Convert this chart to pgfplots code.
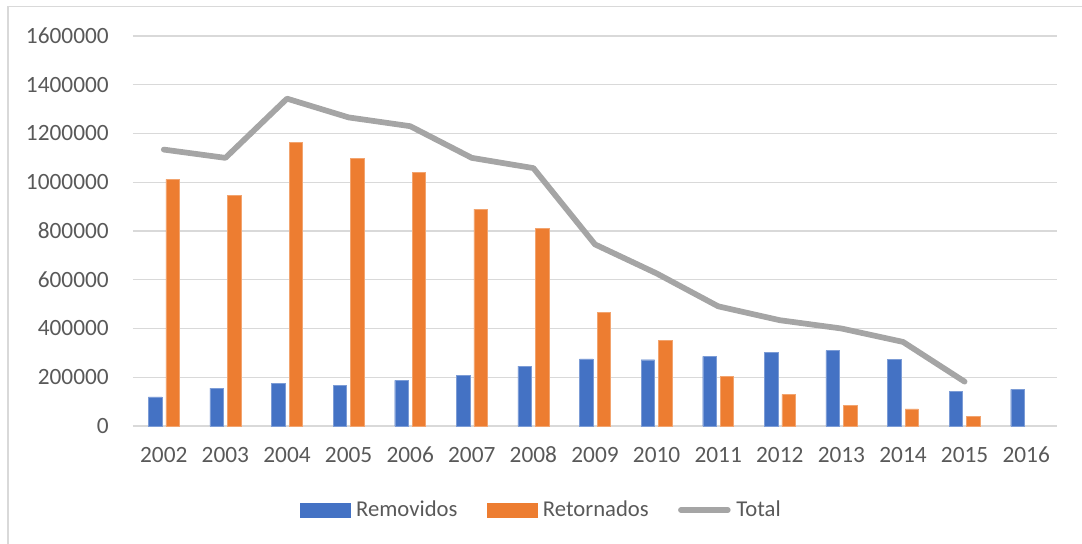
\documentclass[border=0pt]{standalone}
\usepackage{pgfplots}
\pgfplotsset{compat=1.18}
\usepackage{fontspec}
\setmainfont{Carlito}
\definecolor{cblue}{HTML}{4472C4}
\definecolor{corange}{HTML}{ED7D31}
\definecolor{cgray}{HTML}{A5A5A5}
\definecolor{cgrid}{HTML}{D9D9D9}
\definecolor{ctext}{HTML}{595959}
\begin{document}
\begin{tikzpicture}
\begin{axis}[
  at={(0,0)}, anchor=south west,
  scale only axis, width=693pt, height=292.5pt,
  xmin=-0.5, xmax=14.5, ymin=0, ymax=1600000,
  scaled y ticks=false,
  xtick={0,...,14},
  xticklabels={2002,2003,2004,2005,2006,2007,2008,2009,2010,2011,2012,2013,2014,2015,2016},
  ytick={0,200000,400000,600000,800000,1000000,1200000,1400000,1600000},
  yticklabels={0,200000,400000,600000,800000,1000000,1200000,1400000,1600000},
  ymajorgrids, grid style={cgrid, line width=1.1pt},
  axis line style={draw=none},
  tick style={draw=none}, major tick length=0pt,
  ticklabel style={font=\fontsize{17.5}{20}\selectfont, text=ctext},
  yticklabel style={anchor=east, inner sep=0pt, xshift=-18pt, text height=11pt, text depth=0pt},
  xticklabel style={anchor=north, inner sep=0pt, yshift=-16.5pt, text height=11pt, text depth=0pt},
  legend columns=3,
  legend style={at={(0.4409,-0.2154)}, anchor=center, draw=none, fill=none,
    inner sep=0pt, nodes={inner sep=0pt, font=\fontsize{17}{20}\selectfont, text=ctext},
    /tikz/every odd column/.append style={column sep=4.3pt},
    /tikz/every even column/.append style={column sep=22pt}},
  legend cell align=left,
]
\addplot[ybar, bar width=10.1pt, bar shift=-6.56pt, fill=cblue, draw=cblue!70!white, line width=0.3pt,
  legend image code/.code={\fill[cblue] (0pt,-5.25pt) rectangle (37.5pt,5.25pt);}]
  coordinates {(0,120000) (1,155000) (2,176000) (3,168000) (4,187000) (5,208000) (6,246000) (7,275000) (8,272000) (9,286000) (10,301000) (11,309000) (12,274000) (13,142000) (14,150000)};
\addlegendentry{Removidos}
\addplot[ybar, bar width=10.1pt, bar shift=6.56pt, fill=corange, draw=corange!70!white, line width=0.3pt,
  legend image code/.code={\fill[corange] (0pt,-5.25pt) rectangle (37.5pt,5.25pt);}]
  coordinates {(0,1012000) (1,945000) (2,1165000) (3,1098000) (4,1042000) (5,890000) (6,811000) (7,465000) (8,350000) (9,204000) (10,130000) (11,85000) (12,70000) (13,38500)};
\addlegendentry{Retornados}
\addplot[cgray, line width=4.3pt, line join=round, line cap=round, mark=none,
  legend image code/.code={\draw[cgray, line width=4.3pt, line cap=round] (2.15pt,0pt) -- (37.3pt,0pt);}]
  coordinates {(0,1134000) (1,1100000) (2,1343000) (3,1266000) (4,1230000) (5,1100000) (6,1058000) (7,745000) (8,626000) (9,491000) (10,434000) (11,400000) (12,345000) (13,182000)};
\addlegendentry{Total}
\end{axis}
\draw[cgrid, line width=1.1pt] (-93.75pt,314.5pt) rectangle (730pt,-100pt);
\pgfresetboundingbox
\path (-99.75pt,-87.75pt) rectangle (711.75pt,319.5pt);
\end{tikzpicture}
\end{document}
